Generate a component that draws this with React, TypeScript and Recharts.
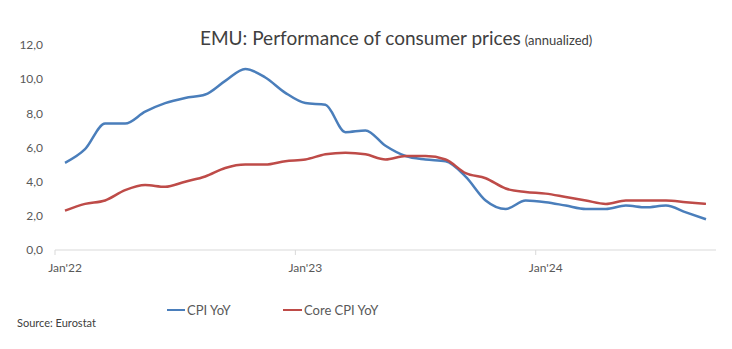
import React from 'react';
import { LineChart, Line, XAxis, YAxis } from 'recharts';

const months = [
  "Jan'22", "Feb'22", "Mar'22", "Apr'22", "May'22", "Jun'22", "Jul'22", "Aug'22", "Sep'22", "Oct'22", "Nov'22", "Dec'22",
  "Jan'23", "Feb'23", "Mar'23", "Apr'23", "May'23", "Jun'23", "Jul'23", "Aug'23", "Sep'23", "Oct'23", "Nov'23", "Dec'23",
  "Jan'24", "Feb'24", "Mar'24", "Apr'24", "May'24", "Jun'24", "Jul'24", "Aug'24", "Sep'24",
];

const cpiYoY = [
  5.1, 5.9, 7.4, 7.4, 8.1, 8.6, 8.9, 9.1, 9.9, 10.6, 10.1, 9.2,
  8.6, 8.5, 6.9, 7.0, 6.1, 5.5, 5.3, 5.2, 4.3, 2.9, 2.4, 2.9,
  2.8, 2.6, 2.4, 2.4, 2.6, 2.5, 2.6, 2.2, 1.8,
];

const coreCpiYoY = [
  2.3, 2.7, 2.9, 3.5, 3.8, 3.7, 4.0, 4.3, 4.8, 5.0, 5.0, 5.2,
  5.3, 5.6, 5.7, 5.6, 5.3, 5.5, 5.5, 5.3, 4.5, 4.2, 3.6, 3.4,
  3.3, 3.1, 2.9, 2.7, 2.9, 2.9, 2.9, 2.8, 2.7,
];

const yTicks = [0, 2, 4, 6, 8, 10, 12];

const data = months.map((m, i) => ({ month: m, cpi: cpiYoY[i], core: coreCpiYoY[i] }));

const W = 732;
const H = 349;
const margin = { top: 45, right: 16, left: 10, bottom: 69 };
const yAxisWidth = 45;
const halfBand = (W - margin.left - margin.right - yAxisWidth) / months.length / 2;

const textColor = '#595959';
const blue = '#4A7EBB';
const red = '#BE4B48';
const font = 'Lato, "Open Sans", sans-serif';

// Excel-style: tick mark sits on the band edge, label centered on the month
const MonthTick = (props: any) => {
  const { x, y, payload } = props;
  return (
    <g>
      <line x1={x - halfBand} x2={x - halfBand} y1={y} y2={y + 5} stroke="#d9d9d9" />
      <text x={x} y={y + 22} textAnchor="middle" fill={textColor} fontSize={12} fontFamily={font}>
        {payload.value}
      </text>
    </g>
  );
};

const App: React.FC = () => {
  return (
    <div style={{ position: 'absolute', left: 0, top: 0, width: W, height: H, background: '#fff', fontFamily: font }}>
      <LineChart width={W} height={H} data={data} margin={margin}>
        <XAxis
          dataKey="month"
          interval={11}
          padding={{ left: halfBand, right: halfBand }}
          axisLine={{ stroke: '#d9d9d9' }}
          tickLine={false}
          tickSize={0}
          tickMargin={0}
          height={30}
          tick={<MonthTick />}
        />
        <YAxis
          domain={[0, 12]}
          ticks={yTicks}
          width={yAxisWidth}
          axisLine={false}
          tickLine={false}
          tickSize={0}
          tickMargin={12}
          tickFormatter={(v: number) => v.toFixed(1).replace('.', ',')}
          tick={{ fill: textColor, fontSize: 12, fontFamily: font }}
        />
        <Line type="monotone" dataKey="cpi" stroke={blue} strokeWidth={2.5} dot={false} isAnimationActive={false} />
        <Line type="monotone" dataKey="core" stroke={red} strokeWidth={2.5} dot={false} isAnimationActive={false} />
      </LineChart>

      <div style={{ position: 'absolute', left: 200, top: 26, whiteSpace: 'nowrap', color: '#404040' }}>
        <span style={{ fontSize: 19 }}>EMU: Performance of consumer prices</span>{' '}
        <span style={{ fontSize: 13 }}>(annualized)</span>
      </div>

      <div style={{ position: 'absolute', left: 167, top: 302, fontSize: 13, color: textColor, display: 'flex', alignItems: 'center' }}>
        <span style={{ display: 'inline-block', width: 18, height: 2.5, background: blue, marginRight: 2 }} />
        CPI YoY
      </div>
      <div style={{ position: 'absolute', left: 283, top: 302, fontSize: 13, color: textColor, display: 'flex', alignItems: 'center' }}>
        <span style={{ display: 'inline-block', width: 19, height: 2.5, background: red, marginRight: 2 }} />
        Core CPI YoY
      </div>

      <div style={{ position: 'absolute', left: 17, top: 316, fontSize: 11, color: '#404040' }}>Source: Eurostat</div>
    </div>
  );
};

export default App;
